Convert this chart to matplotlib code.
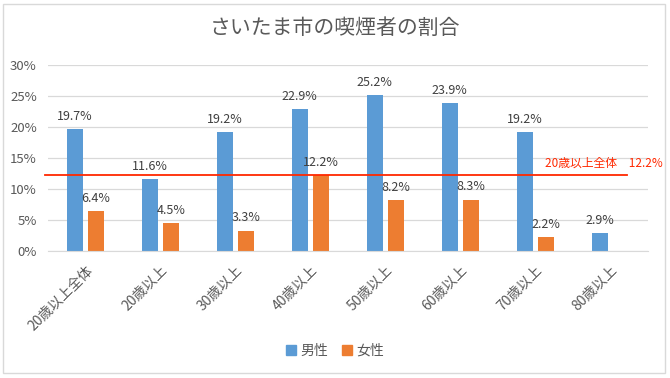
import matplotlib
matplotlib.use("Agg")
import matplotlib.pyplot as plt
from matplotlib.patches import Rectangle, Patch
import numpy as np

plt.rcParams['font.family'] = ['Noto Sans CJK JP', 'DejaVu Sans']

categories = ["20歳以上全体", "20歳以上", "30歳以上", "40歳以上", "50歳以上", "60歳以上", "70歳以上", "80歳以上"]
male = [19.7, 11.6, 19.2, 22.9, 25.2, 23.9, 19.2, 2.9]
female = [6.4, 4.5, 3.3, 12.2, 8.2, 8.3, 2.2, None]
overall = 12.2
yticks = [0, 5, 10, 15, 20, 25, 30]

blue = "#5B9BD5"
orange = "#ED7D31"
gray = "#595959"

fig = plt.figure(figsize=(6.7, 3.78), dpi=100)
fig.patches.append(Rectangle((0.005, 0.012), 0.987, 0.978, transform=fig.transFigure,
                             fill=False, edgecolor="#D9D9D9", linewidth=1.0))
ax = fig.add_axes([0.0716, 0.336, 0.895, 0.492])

x = np.arange(len(categories))
w = 0.21
off = 0.14
for i, v in enumerate(male):
    ax.bar(x[i] - off, v, w, color=blue, zorder=2)
    ax.text(x[i] - off, v + 1.0, f"{v}%", ha="center", va="bottom", fontsize=9, color="#404040")
for i, v in enumerate(female):
    if v is None:
        continue
    ax.bar(x[i] + off, v, w, color=orange, zorder=2)
    ax.text(x[i] + off, v + 1.0, f"{v}%", ha="center", va="bottom", fontsize=9, color="#404040")

ax.plot([-0.54, 7.22], [overall, overall], color="#FF2800", linewidth=1.3, clip_on=False, zorder=3)
ax.text(6.13, overall + 0.9, f"20歳以上全体　{overall}%", color="#FF2800", fontsize=8.5,
        ha="left", va="bottom", clip_on=False)

ax.set_xlim(-0.5, 7.5)
ax.set_ylim(0, 30)
ax.set_yticks(yticks)
ax.set_yticklabels([f"{t}%" for t in yticks], color=gray, fontsize=9.5)
ax.set_xticks(x)
ax.set_xticklabels(categories, rotation=45, ha="right", rotation_mode="anchor", color=gray, fontsize=10)
ax.tick_params(length=0)
ax.tick_params(axis="y", pad=8)
ax.tick_params(axis="x", pad=9)
ax.grid(axis="y", color="#D9D9D9", linewidth=0.9, zorder=0)
for s in ["top", "right", "left"]:
    ax.spines[s].set_visible(False)
ax.spines["bottom"].set_color("#D9D9D9")

fig.text(0.5, 0.925, "さいたま市の喫煙者の割合", ha="center", va="center", fontsize=15, color=gray)

handles = [Patch(color=blue, label="男性"), Patch(color=orange, label="女性")]
fig.legend(handles=handles, loc="center", bbox_to_anchor=(0.5, 0.072), ncol=2, frameon=False,
           fontsize=10, handlelength=0.7, handleheight=0.7, handletextpad=0.3, columnspacing=1.0,
           labelcolor=gray)

fig.savefig("out.png", dpi=100, facecolor="white")
